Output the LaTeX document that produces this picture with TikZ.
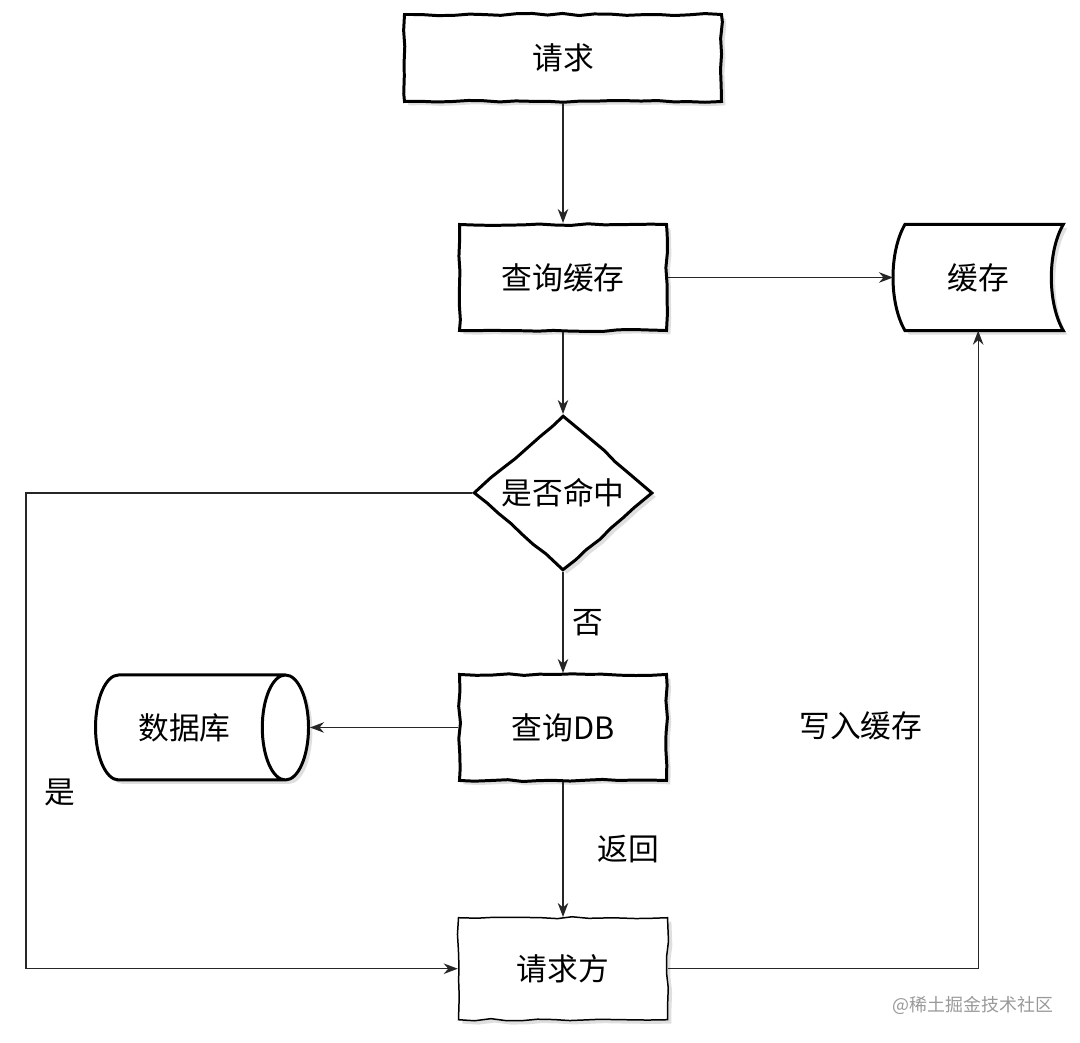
\documentclass[tikz,border=0pt]{standalone}
\usepackage{fontspec}
\setmainfont{Noto Sans CJK SC}
\usetikzlibrary{positioning,shapes.geometric,shadows,backgrounds,calc}
\usetikzlibrary{decorations.pathmorphing}
\usetikzlibrary{arrows.meta}

\begin{document}
\begin{tikzpicture}[line width=0.75pt, every node/.style={font=\fontsize{17.5}{20}\selectfont}]
		\pgfmathsetseed{7}
		\tikzstyle{shade}=[drop shadow={shadow xshift=2.2pt, shadow yshift=-2.2pt, fill=black!25}]
		\tikzstyle{sketch}=[draw=black, fill=white, line width=1.7pt, shade, decorate,
			decoration={random steps, segment length=9pt, amplitude=0.6pt}]
		\tikzstyle{box}=[sketch, rectangle, minimum width=4.14cm, minimum height=2.12cm]
		\tikzstyle{link}=[draw=black!85, -{Stealth[length=8pt,width=6pt]}]
		\useasboundingbox (0,0) rectangle (21.6,-20.84);
		\node[box, minimum width=6.34cm, minimum height=1.74cm] (req) at (11.26,-1.16) {请求};
		\node[box, below=2.4cm of req] (qcache) {查询缓存};
		\node[sketch, diamond, aspect=1.15, inner sep=0pt, minimum width=3.58cm,
			minimum height=3.1cm, below=1.64cm of qcache] (hit) {是否命中};
		\node[box, below=2.02cm of hit] (qdb) {查询DB};
		\node[box, line width=0.85pt, minimum width=4.18cm, minimum height=2.04cm,
			below=2.7cm of qdb] (caller) {请求方};
		\node[minimum width=3.38cm, minimum height=2.1cm, right=4.5cm of qcache] (cache) {缓存};
		\node[cylinder, draw=black, fill=white, line width=1.7pt, shade, aspect=1.15,
			minimum height=4.26cm, minimum width=2.1cm, left=2.96cm of qdb] (db) {数据库};
		\begin{scope}[on background layer]
			\draw[line width=1.7pt, fill=white, shade] ($(cache.north west)+(0.24,0)$) -- (cache.north east)
				.. controls +(-0.32,-0.55) and +(-0.32,0.55) .. (cache.south east)
				-- ($(cache.south west)+(0.24,0)$)
				.. controls +(-0.32,0.55) and +(-0.32,-0.55) .. cycle;
		\end{scope}
		% connectors
		\draw[link] (req) -- (qcache);
		\draw[link] (qcache) -- (hit);
		\draw[link] (qcache) -- (cache);
		\draw[link] (hit) -- node[right=1.5pt] {否} (qdb);
		\draw[link] (qdb) -- (db);
		\draw[link] (qdb) -- node[right=16pt] {返回} (caller);
		\draw[link] (hit.west) -- ++(-8.92,0) |- node[pos=0.315, right=7pt] {是} (caller.west);
		\draw[link] (caller.east) -| node[pos=0.69, left=28pt] {写入缓存} (cache.south);
		\node[font=\fontsize{10.2}{12}\selectfont, text=black!40] (mark) at (19.46,-20.1) {@稀土掘金技术社区};
	\end{tikzpicture}
\end{document}
